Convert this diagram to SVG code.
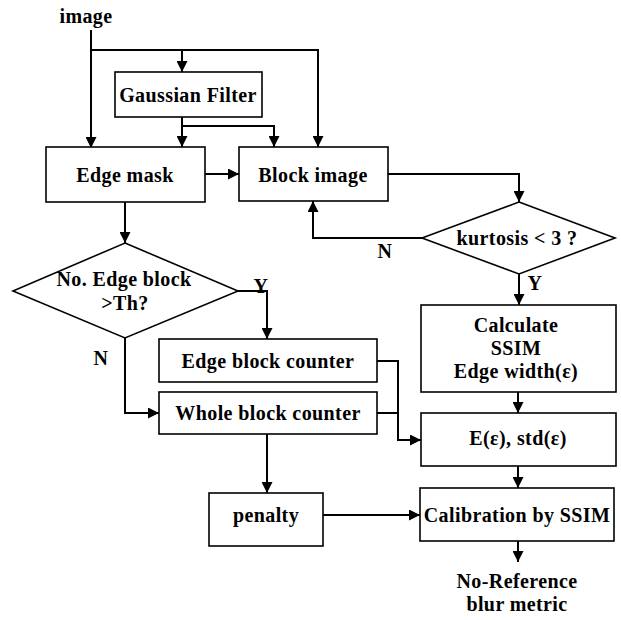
<svg xmlns="http://www.w3.org/2000/svg" width="621" height="620" viewBox="0 0 621 620">
<style>
.box{fill:#fff;stroke:#000;stroke-width:1.6}
.t{font-family:"Liberation Serif","Times New Roman",serif;font-weight:bold;font-size:20px;letter-spacing:0.4px;text-anchor:middle;fill:#000}
.c{fill:none;stroke:#000;stroke-width:2}
</style>
<defs>
<marker id="a" viewBox="0 0 10 10" refX="10" refY="5" markerWidth="11" markerHeight="11" markerUnits="userSpaceOnUse" orient="auto">
<path d="M0,0 L10,5 L0,10 z" fill="#000"/>
</marker>
</defs>
<rect width="621" height="620" fill="#fff"/>
<g id="connectors">
<path class="c" d="M91,30 V148" marker-end="url(#a)"/>
<path class="c" d="M91,50 H318 V147" marker-end="url(#a)"/>
<path class="c" d="M182,50 V72" marker-end="url(#a)"/>
<path class="c" d="M182,117 V147" marker-end="url(#a)"/>
<path class="c" d="M182,126 H274 V147" marker-end="url(#a)"/>
<path class="c" d="M205,174 H239" marker-end="url(#a)"/>
<path class="c" d="M388,174 H519 V202" marker-end="url(#a)"/>
<path class="c" d="M422,238 H313 V201" marker-end="url(#a)"/>
<path class="c" d="M519,274 V305" marker-end="url(#a)"/>
<path class="c" d="M125,202 V243" marker-end="url(#a)"/>
<path class="c" d="M238,291 H267 V339" marker-end="url(#a)"/>
<path class="c" d="M125,338 V413 H159" marker-end="url(#a)"/>
<path class="c" d="M377,361 H398 V440 H421" marker-end="url(#a)"/>
<path class="c" d="M377,413 H398"/>
<path class="c" d="M518,392 V413" marker-end="url(#a)"/>
<path class="c" d="M518,466 V488" marker-end="url(#a)"/>
<path class="c" d="M267,434 V493" marker-end="url(#a)"/>
<path class="c" d="M323,515 H420" marker-end="url(#a)"/>
<path class="c" d="M518,541 V562" marker-end="url(#a)"/>
<text class="t" x="385" y="258">N</text>
<text class="t" x="535" y="290">Y</text>
<text class="t" x="261" y="293">Y</text>
<text class="t" x="101" y="365">N</text>
</g>
<g id="image"><text class="t" x="86" y="23">image</text></g>
<g id="gaussian"><rect class="box" x="115" y="72" width="147" height="45"/><text class="t" x="188" y="102">Gaussian Filter</text></g>
<g id="edgemask"><rect class="box" x="46" y="147" width="159" height="55"/><text class="t" x="125" y="182">Edge mask</text></g>
<g id="blockimage"><rect class="box" x="239" y="147" width="149" height="54"/><text class="t" x="313" y="182">Block image</text></g>
<g id="kurtosis"><polygon class="box" points="519,202 615,238 519,274 422,238"/><text class="t" x="517" y="245">kurtosis &lt; 3 ?</text></g>
<g id="edgeblock"><polygon class="box" points="125,243 238,291 125,338 13,291"/><text class="t" x="124" y="286">No. Edge block</text><text class="t" x="125" y="310">&gt;Th?</text></g>
<g id="edgecounter"><rect class="box" x="159" y="339" width="218" height="43"/><text class="t" x="268" y="368">Edge block counter</text></g>
<g id="wholecounter"><rect class="box" x="159" y="392" width="218" height="42"/><text class="t" x="268" y="420">Whole block counter</text></g>
<g id="calculate"><rect class="box" x="421" y="305" width="195" height="87"/><text class="t" x="516" y="332">Calculate</text><text class="t" x="516" y="355">SSIM</text><text class="t" x="516" y="378">Edge width(ε)</text></g>
<g id="estd"><rect class="box" x="421" y="413" width="195" height="53"/><text class="t" x="518" y="445">E(ε), std(ε)</text></g>
<g id="penalty"><rect class="box" x="209" y="493" width="114" height="53"/><text class="t" x="266" y="522">penalty</text></g>
<g id="calibration"><rect class="box" x="420" y="488" width="194" height="53"/><text class="t" x="517" y="522">Calibration by SSIM</text></g>
<g id="output"><text class="t" x="517" y="588">No-Reference</text><text class="t" x="517" y="611">blur metric</text></g>
</svg>
